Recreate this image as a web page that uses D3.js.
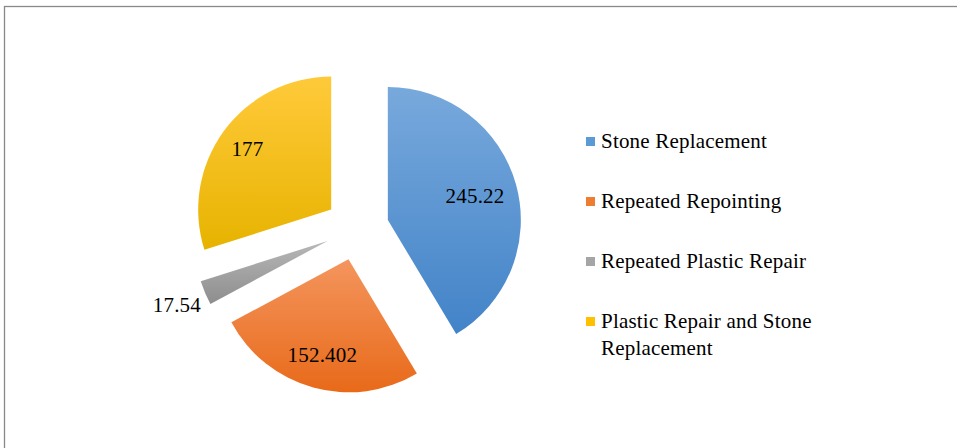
<!DOCTYPE html>
<html>
<head>
<meta charset="utf-8">
<script src="https://cdn.jsdelivr.net/npm/d3@7"></script>
<style>
  body { margin: 0; background: #fff; }
</style>
</head>
<body>
<div id="chart"></div>
<script>
// data
var categories = ["Stone Replacement", "Repeated Repointing", "Repeated Plastic Repair", "Plastic Repair and Stone Replacement"];
var values = [245.22, 152.402, 17.54, 177];
var valueLabels = ["245.22", "152.402", "17.54", "177"];
var legendLines = [["Stone Replacement"], ["Repeated Repointing"], ["Repeated Plastic Repair"], ["Plastic Repair and Stone", "Replacement"]];

var baseColors = ["#5b9bd5", "#ed7d31", "#a5a5a5", "#ffc000"];
var topColors = ["#78a9dc", "#f4955e", "#b8b8b8", "#ffca3a"];
var bottomColors = ["#4283c8", "#e86a19", "#8d8d8d", "#e7b300"];

var width = 957, height = 448;
var cx = 357, cy = 228.5, r = 133, explode = 32;
var font = "'Liberation Serif', 'DejaVu Serif', 'Times New Roman', serif";

var svg = d3.select("#chart")
  .append("svg")
  .attr("width", width)
  .attr("height", height);

// chart border (only top and left edges visible)
svg.append("rect")
  .attr("x", 4.5).attr("y", 6.5)
  .attr("width", width + 20).attr("height", height + 20)
  .attr("fill", "none")
  .attr("stroke", "#898989")
  .attr("stroke-width", 1.3);

var defs = svg.append("defs");
baseColors.forEach(function (c, i) {
  var g = defs.append("linearGradient")
    .attr("id", "grad" + i)
    .attr("x1", 0).attr("y1", 0).attr("x2", 0).attr("y2", 1);
  g.append("stop").attr("offset", "0%").attr("stop-color", topColors[i]);
  g.append("stop").attr("offset", "100%").attr("stop-color", bottomColors[i]);
});

var pie = d3.pie().sort(null).value(function (d) { return d; });
var arcs = pie(values);
var arc = d3.arc().innerRadius(0).outerRadius(r);

function offset(d, dist) {
  var a = (d.startAngle + d.endAngle) / 2;
  return [Math.sin(a) * dist, -Math.cos(a) * dist];
}

var g = svg.append("g").attr("transform", "translate(" + cx + "," + cy + ")");

var slices = g.selectAll("g.slice")
  .data(arcs)
  .enter()
  .append("g")
  .attr("class", "slice")
  .attr("transform", function (d) {
    var o = offset(d, explode);
    return "translate(" + o[0] + "," + o[1] + ")";
  });

slices.append("path")
  .attr("d", arc)
  .attr("fill", function (d, i) { return "url(#grad" + i + ")"; });

// data labels: inside for big slices, outside for the small one
var labelRadius = [0.68, 0.74, 1.23, 0.78];
slices.append("text")
  .attr("transform", function (d, i) {
    var o = offset(d, r * labelRadius[i]);
    return "translate(" + o[0] + "," + o[1] + ")";
  })
  .attr("text-anchor", "middle")
  .attr("dy", "0.35em")
  .attr("font-family", font)
  .attr("font-size", "21px")
  .attr("letter-spacing", "0.2px")
  .text(function (d, i) { return valueLabels[i]; });

// legend
var legend = svg.append("g").attr("transform", "translate(586,141)");
var item = legend.selectAll("g")
  .data(categories)
  .enter()
  .append("g")
  .attr("transform", function (d, i) { return "translate(0," + (i * 60) + ")"; });

item.append("rect")
  .attr("x", 0).attr("y", -4)
  .attr("width", 9).attr("height", 9)
  .attr("fill", function (d, i) { return baseColors[i]; });

item.append("text")
  .attr("x", 15)
  .attr("y", 0)
  .attr("font-family", font)
  .attr("font-size", "21px")
  .attr("letter-spacing", "0.2px")
  .selectAll("tspan")
  .data(function (d, i) { return legendLines[i]; })
  .enter()
  .append("tspan")
  .attr("x", 15)
  .attr("dy", function (d, j) { return j === 0 ? "0.35em" : "26.5"; })
  .text(function (d) { return d; });
</script>
</body>
</html>
